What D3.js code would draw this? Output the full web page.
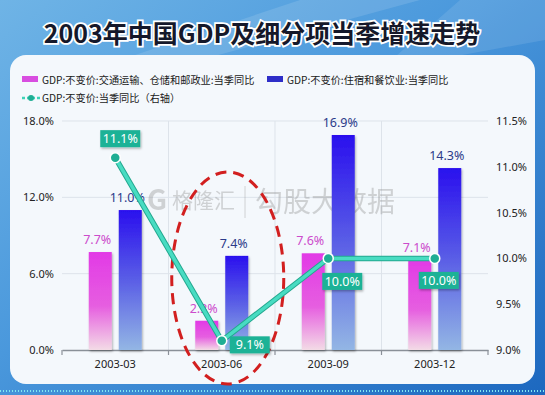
<!DOCTYPE html>
<html>
<head>
<meta charset="utf-8">
<script src="https://cdn.jsdelivr.net/npm/d3@7"></script>
<style>
  body { margin: 0; background: #3d8ad6; }
  svg { display: block; font-family: "Noto Sans CJK SC", "Noto Sans", sans-serif; }
</style>
</head>
<body>
<svg id="chart" width="545" height="395"></svg>
<script>
const categories = ["2003-03", "2003-06", "2003-09", "2003-12"];
const transport = [7.7, 2.3, 7.6, 7.1];   // 交通运输、仓储和邮政业
const hotel = [11.0, 7.4, 16.9, 14.3];    // 住宿和餐饮业
const gdp = [11.1, 9.1, 10.0, 10.0];      // 右轴
const leftTicks = [0, 6, 12, 18];
const rightTicks = [9.0, 9.5, 10.0, 10.5, 11.0, 11.5];
const seriesNames = [
  "GDP:不变价:交通运输、仓储和邮政业:当季同比",
  "GDP:不变价:住宿和餐饮业:当季同比",
  "GDP:不变价:当季同比（右轴）"
];

const svg = d3.select("#chart");
const W = 545, H = 395;
const m = { left: 62, right: 488, top: 121, bottom: 350 };

const defs = svg.append("defs");
const bg = defs.append("linearGradient").attr("id", "bg")
  .attr("x1", 0).attr("y1", 0).attr("x2", 1).attr("y2", 1);
bg.append("stop").attr("offset", "0%").attr("stop-color", "#6fb4e6");
bg.append("stop").attr("offset", "45%").attr("stop-color", "#4a98dc");
bg.append("stop").attr("offset", "100%").attr("stop-color", "#1d68bf");

const gPink = defs.append("linearGradient").attr("id", "gPink")
  .attr("x1", 0).attr("y1", 0).attr("x2", 0).attr("y2", 1);
gPink.append("stop").attr("offset", "0%").attr("stop-color", "#e23ae6");
gPink.append("stop").attr("offset", "55%").attr("stop-color", "#e65ee0");
gPink.append("stop").attr("offset", "100%").attr("stop-color", "#f3dbe6");

const gBlue = defs.append("linearGradient").attr("id", "gBlue")
  .attr("x1", 0).attr("y1", 0).attr("x2", 0).attr("y2", 1);
gBlue.append("stop").attr("offset", "0%").attr("stop-color", "#2a10ee");
gBlue.append("stop").attr("offset", "50%").attr("stop-color", "#5a5ee6");
gBlue.append("stop").attr("offset", "100%").attr("stop-color", "#93b6e4");

const sh = defs.append("filter").attr("id", "sh").attr("x", "-20%").attr("y", "-20%").attr("width", "140%").attr("height", "160%");
sh.append("feDropShadow").attr("dx", 1).attr("dy", 1.5).attr("stdDeviation", 1).attr("flood-opacity", 0.3);

// background
svg.append("rect").attr("width", W).attr("height", H).attr("fill", "url(#bg)");
svg.append("path")
  .attr("d", "M300,0 L420,0 L200,60 L120,60 Z")
  .attr("fill", "#ffffff").attr("opacity", 0.12);
svg.append("path")
  .attr("d", "M460,0 L545,0 L545,40 L380,70 Z")
  .attr("fill", "#ffffff").attr("opacity", 0.1);
svg.append("line")
  .attr("x1", 0).attr("x2", W).attr("y1", 391).attr("y2", 391)
  .attr("stroke", "#7fe8f0").attr("stroke-width", 2).attr("stroke-dasharray", "1 2");

// title
svg.append("text")
  .attr("x", 262).attr("y", 43)
  .attr("text-anchor", "middle")
  .attr("font-size", 25).attr("font-weight", "bold")
  .attr("fill", "#15182a").attr("stroke", "#ffffff").attr("stroke-width", 3.5)
  .attr("paint-order", "stroke")
  .text("2003年中国GDP及细分项当季增速走势");

// panel
svg.append("rect")
  .attr("x", 10).attr("y", 55).attr("width", 525).attr("height", 329)
  .attr("rx", 16).attr("fill", "#f4f8fc");

// legend
const lg = svg.append("g").attr("font-size", 10.2).attr("fill", "#1a1a1a");
lg.append("rect").attr("x", 22).attr("y", 76).attr("width", 16).attr("height", 6).attr("fill", "#d84ee0");
lg.append("text").attr("x", 42).attr("y", 83.5).text(seriesNames[0]);
lg.append("rect").attr("x", 267).attr("y", 76).attr("width", 16).attr("height", 6).attr("fill", "#2e2ec8");
lg.append("text").attr("x", 287).attr("y", 83.5).text(seriesNames[1]);
lg.append("line").attr("x1", 22).attr("x2", 40).attr("y1", 98).attr("y2", 98)
  .attr("stroke", "#3fd3b8").attr("stroke-width", 2.5).attr("stroke-dasharray", "3 2");
lg.append("circle").attr("cx", 31).attr("cy", 98).attr("r", 3).attr("fill", "#1fae94");
lg.append("text").attr("x", 42).attr("y", 102).text(seriesNames[2]);

// scales
const x = d3.scaleBand().domain(categories).range([m.left, m.right]);
const yL = d3.scaleLinear().domain([0, 18]).range([m.bottom, m.top]);
const yR = d3.scaleLinear().domain([9, 11.5]).range([m.bottom, m.top]);
const barW = 23, gap = 7;

// grid
const grid = svg.append("g").attr("stroke", "#dde3ea").attr("stroke-width", 1);
grid.selectAll("line.h").data(leftTicks.filter(d => d > 0)).join("line")
  .attr("x1", m.left).attr("x2", m.right)
  .attr("y1", d => yL(d)).attr("y2", d => yL(d));
grid.selectAll("line.v").data(categories.slice(1)).join("line")
  .attr("x1", d => x(d)).attr("x2", d => x(d))
  .attr("y1", m.top).attr("y2", m.bottom);

// watermark
const wm = svg.append("g").attr("opacity", 0.35).attr("fill", "#8a8a8a");
wm.append("text").attr("x", 147).attr("y", 210).attr("font-size", 28).attr("font-weight", "bold").text("G");
wm.append("text").attr("x", 172).attr("y", 208).attr("font-size", 21).text("格隆汇");
wm.append("line").attr("x1", 245).attr("x2", 245).attr("y1", 186).attr("y2", 218)
  .attr("stroke", "#8a8a8a").attr("stroke-width", 1);
wm.append("text").attr("x", 255).attr("y", 212).attr("font-size", 28).text("勾股大数据");

// axes
const xAxis = svg.append("g").attr("transform", `translate(0,${m.bottom})`)
  .call(d3.axisBottom(x).tickSize(0).tickPadding(10));
xAxis.select(".domain").attr("stroke", "#8a9098").attr("stroke-width", 1.5);
xAxis.selectAll("text").attr("font-size", 11).attr("fill", "#222").attr("font-family", "Noto Sans, sans-serif");
svg.append("g").selectAll("line").data(categories.concat([null])).join("line")
  .attr("x1", (d, i) => m.left + i * x.bandwidth()).attr("x2", (d, i) => m.left + i * x.bandwidth())
  .attr("y1", m.bottom).attr("y2", m.bottom + 5)
  .attr("stroke", "#8a9098").attr("stroke-width", 1.2);

const yAxisL = svg.append("g").attr("transform", `translate(${m.left - 4},0)`)
  .call(d3.axisLeft(yL).tickValues(leftTicks).tickSize(0).tickPadding(4).tickFormat(d => d.toFixed(1) + "%"));
yAxisL.select(".domain").remove();
yAxisL.selectAll("text").attr("font-size", 11).attr("fill", "#222").attr("font-family", "Noto Sans, sans-serif");

const yAxisR = svg.append("g").attr("transform", `translate(${m.right + 4},0)`)
  .call(d3.axisRight(yR).tickValues(rightTicks).tickSize(0).tickPadding(4).tickFormat(d => d.toFixed(1) + "%"));
yAxisR.select(".domain").remove();
yAxisR.selectAll("text").attr("font-size", 11).attr("fill", "#222").attr("font-family", "Noto Sans, sans-serif");

// bars
const cx = c => x(c) + x.bandwidth() / 2;
const bars = svg.append("g");
bars.selectAll("rect.p").data(transport).join("rect")
  .attr("x", (d, i) => cx(categories[i]) - gap / 2 - barW)
  .attr("y", d => yL(d)).attr("width", barW).attr("height", d => yL(0) - yL(d))
  .attr("fill", "url(#gPink)").attr("filter", "url(#sh)");
bars.selectAll("rect.b").data(hotel).join("rect")
  .attr("x", (d, i) => cx(categories[i]) + gap / 2)
  .attr("y", d => yL(d)).attr("width", barW).attr("height", d => yL(0) - yL(d))
  .attr("fill", "url(#gBlue)").attr("filter", "url(#sh)");

const bl = svg.append("g").attr("font-size", 12.5).attr("text-anchor", "middle").attr("font-family", "Noto Sans, sans-serif");
bl.selectAll("text.p").data(transport).join("text")
  .attr("x", (d, i) => cx(categories[i]) - gap / 2 - barW / 2 - 3)
  .attr("y", d => yL(d) - 8).attr("fill", "#cc4ccc")
  .text(d => d.toFixed(1) + "%");
bl.selectAll("text.b").data(hotel).join("text")
  .attr("x", (d, i) => cx(categories[i]) + gap / 2 + barW / 2 - 3)
  .attr("y", d => yL(d) - 8).attr("fill", "#2b3a8a")
  .text(d => d.toFixed(1) + "%");

// red dashed ellipse
svg.append("ellipse")
  .attr("cx", cx(categories[1]) + 6).attr("cy", 278).attr("rx", 56).attr("ry", 106)
  .attr("fill", "none").attr("stroke", "#d21f1f").attr("stroke-width", 3)
  .attr("stroke-dasharray", "11 7");

// line
const line = d3.line().x((d, i) => cx(categories[i])).y(d => yR(d));
svg.append("path").datum(gdp).attr("d", line)
  .attr("fill", "none").attr("stroke", "#23a88f").attr("stroke-width", 5.5).attr("stroke-linejoin", "round");
svg.append("path").datum(gdp).attr("d", line)
  .attr("fill", "none").attr("stroke", "#48dcc2").attr("stroke-width", 3.5).attr("stroke-linejoin", "round");
svg.append("g").selectAll("circle").data(gdp).join("circle")
  .attr("cx", (d, i) => cx(categories[i])).attr("cy", d => yR(d)).attr("r", 5)
  .attr("fill", "#1fae94").attr("stroke", "#ffffff").attr("stroke-width", 1.5);

// line labels
const off = [[5, -19], [28, 4], [14, 23], [4, 22]];
const ll = svg.append("g").selectAll("g").data(gdp).join("g")
  .attr("transform", (d, i) => `translate(${cx(categories[i]) + off[i][0]},${yR(d) + off[i][1]})`);
ll.append("rect").attr("x", -20).attr("y", -8.5).attr("width", 40).attr("height", 17)
  .attr("fill", "#1fb296").attr("filter", "url(#sh)");
ll.append("text").attr("text-anchor", "middle").attr("y", 4.5)
  .attr("font-size", 12.5).attr("fill", "#ffffff").attr("font-family", "Noto Sans, sans-serif")
  .text(d => d.toFixed(1) + "%");
</script>
</body>
</html>
